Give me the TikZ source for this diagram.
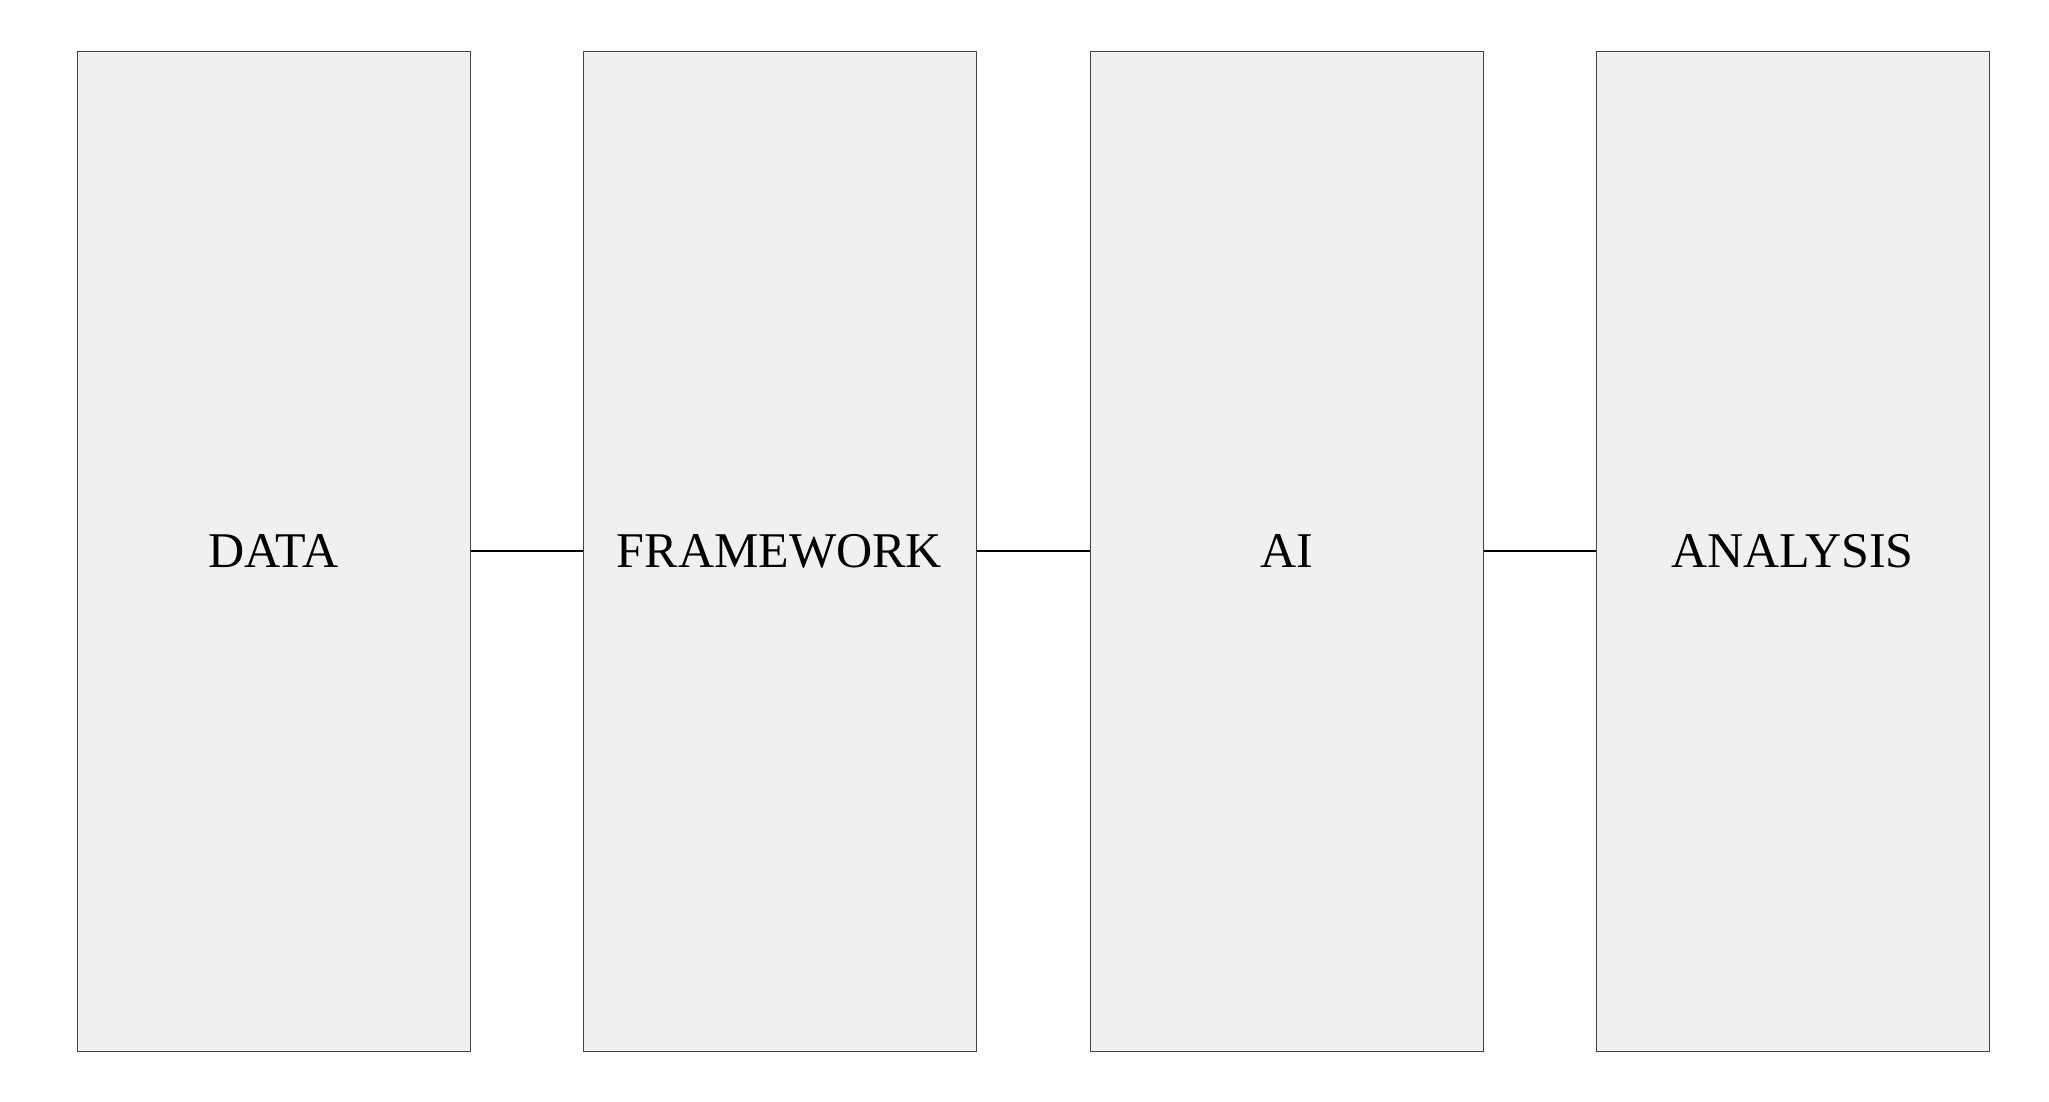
\documentclass[tikz,border=0pt]{standalone}
\usepackage{fontspec}
\setmainfont{Liberation Serif}
\definecolor{boxfill}{HTML}{F0F0F0}
\definecolor{boxline}{HTML}{444444}
\tikzset{
  stage/.style={draw=boxline, line width=1pt, fill=boxfill, minimum width=393pt, minimum height=1000pt, inner sep=0pt, font=\fontsize{50}{60}\selectfont, text=black},
  link/.style={draw=black, line width=2.6pt}
}
\begin{document}
\begin{tikzpicture}[x=1pt,y=-1pt]
\useasboundingbox (0,0) rectangle (2049,1101);
\node[stage] (data) at (273.5,551) {DATA};
\node[stage] (framework) at (779.5,551) {FRAMEWORK};
\node[stage] (ai) at (1286.5,551) {AI};
\node[stage] (analysis) at (1792.5,551) {ANALYSIS};
\draw[link] (data.east) -- (framework.west);
\draw[link] (framework.east) -- (ai.west);
\draw[link] (ai.east) -- (analysis.west);
\end{tikzpicture}
\end{document}
